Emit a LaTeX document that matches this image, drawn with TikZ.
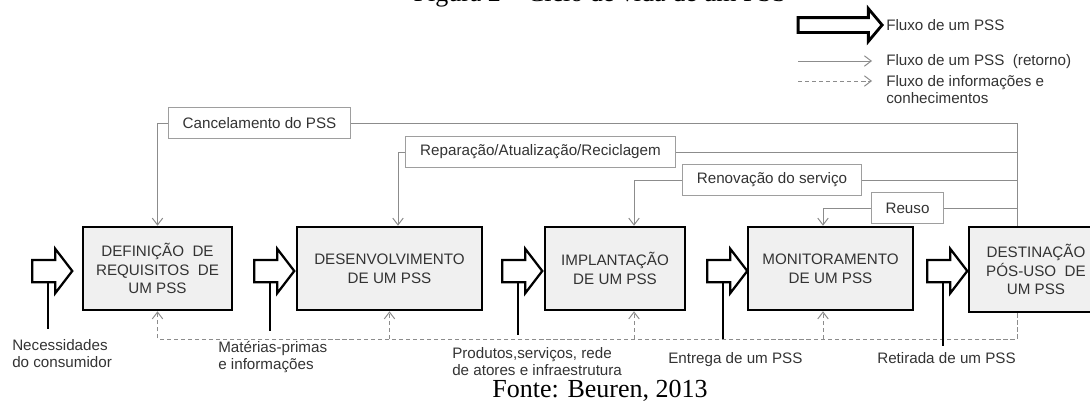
\documentclass[tikz,border=0pt]{standalone}
\usepackage{fontspec}
\setmainfont{Liberation Serif}
\setsansfont{Liberation Sans}
\usetikzlibrary{shapes.arrows,arrows.meta}

\definecolor{cinzalinha}{gray}{0.55}
\definecolor{cinzaborda}{gray}{0.62}
\definecolor{cinzatexto}{gray}{0.2}
\definecolor{cinzacaixa}{gray}{0.94}

\tikzset{
	etapa/.style={draw=black, line width=1.8pt, fill=cinzacaixa, align=center,
		inner sep=0pt, minimum height=2.075cm,
		font=\sffamily\fontsize{10.8}{13.2}\selectfont},
	rotulo/.style={draw=cinzaborda, line width=0.6pt, fill=white,
		inner xsep=0.36cm, inner ysep=0pt, minimum height=0.775cm},
	seta/.style={single arrow, draw=black, fill=white, line width=1.6pt,
		minimum height=1cm, inner xsep=0pt, inner ysep=0.25cm,
		single arrow head extend=0.275cm, single arrow tip angle=105},
	ret/.style={draw=cinzalinha, line width=0.7pt},
	info/.style={draw=cinzalinha, line width=0.7pt, dash pattern=on 3pt off 2pt},
	ponta/.style={-{Straight Barb[length=0.17cm,width=0.26cm]}},
	entrada/.style={draw=black, line width=0.9pt},
	legenda/.style={anchor=west, inner sep=0pt, align=left}
}

\begin{document}
\begin{tikzpicture}[x=0.025cm, y=-0.025cm, text=cinzatexto,
	font=\sffamily\fontsize{10.8}{12.2}\selectfont]
	\useasboundingbox (0,0) rectangle (1090,403);

	% titulo e fonte
	\node[anchor=base, font=\rmfamily\fontsize{18.5}{22}\selectfont, text=black]
		(titulo) at (600,1.5) {Figura 2 -- Ciclo de vida de um PSS};
	\node[anchor=base, font=\rmfamily\fontsize{18.5}{22}\selectfont, text=black]
		(fonte) at (600,397) {Fonte: Beuren, 2013};

	% legenda
	\node[seta, minimum height=2.1cm, inner ysep=0.15cm, line width=2pt,
		single arrow head extend=0.225cm, single arrow tip angle=100]
		(leg1) at (837,25) {};
	\node[legenda] (legt1) at (886,25) {Fluxo de um PSS};
	\coordinate (leg2a) at (798,61);
	\coordinate (leg2b) at (872,61);
	\draw[ret, ponta] (leg2a) -- (leg2b);
	\node[legenda] (legt2) at (886,62) {Fluxo de um PSS~ (retorno)};
	\coordinate (leg3a) at (798,81);
	\coordinate (leg3b) at (872,81);
	\draw[info, ponta] (leg3a) -- (leg3b);
	\node[legenda, anchor=north west] (legt3) at (886,75)
		{Fluxo de informações e\\conhecimentos};

	% etapas
	\node[etapa, minimum width=3.725cm] (defin) at (157.5,268.5)
		{DEFINIÇÃO~~DE\\REQUISITOS~~DE\\UM PSS};
	\node[etapa, minimum width=4.625cm] (desenv) at (389.5,268.5)
		{DESENVOLVIMENTO\\DE UM PSS};
	\node[etapa, minimum width=3.5cm] (implant) at (615,268.5)
		{IMPLANTAÇÃO\\DE UM PSS};
	\node[etapa, minimum width=4.125cm] (monit) at (830.5,268.5)
		{MONITORAMENTO\\DE UM PSS};
	\node[etapa, minimum width=3.35cm, minimum height=2.125cm] (destin) at (1036,269.5)
		{DESTINAÇÃO\\PÓS-USO~~DE\\UM PSS};

	% retornos
	\node[rotulo] (cancel) at (259.5,123) {Cancelamento do PSS};
	\node[rotulo] (repar) at (540.5,152) {Reparação/Atualização/Reciclagem};
	\node[rotulo] (renov) at (772,180) {Renovação do serviço};
	\node[rotulo] (reuso) at (907.5,208) {Reuso};
	\coordinate (tronco) at (1017,123);

	\draw[ret] (destin.north -| tronco) -- (tronco) -- (cancel.east);
	\draw[ret, ponta] (cancel.west) -| (defin.north);
	\draw[ret] (tronco |- repar) -- (repar.east);
	\draw[ret, ponta] (repar.west) -| (398,0 |- desenv.north);
	\draw[ret] (tronco |- renov) -- (renov.east);
	\draw[ret, ponta] (renov.west) -| (634,0 |- implant.north);
	\draw[ret] (tronco |- reuso) -- (reuso.east);
	\draw[ret, ponta] (reuso.west) -| (823,0 |- monit.north);

	% informacoes
	\coordinate (base) at (1017,339);
	\draw[info, ponta] (destin.south -| base) |- (defin.south |- base) -- (defin.south);
	\draw[info, ponta] (desenv.south |- base) -- (desenv.south);
	\draw[info, ponta] (634,0 |- base) -- (634,0 |- implant.south);
	\draw[info, ponta] (823,0 |- base) -- (823,0 |- monit.south);

	% entradas
	\node[seta] (a1) at (48,271) {};
	\node[seta] (a2) at (270,271) {};
	\node[seta] (a3) at (518,271) {};
	\node[seta] (a4) at (723,271) {};
	\node[seta] (a5) at (943,271) {};

	\draw[entrada] (a1.south) -- (a1 |- 0,329);
	\draw[entrada] (a2.south) -- (a2 |- 0,331);
	\draw[entrada] (a3.south) -- (a3 |- 0,335);
	\draw[entrada] (a4.south) -- (a4 |- 0,339);
	\draw[entrada] (a5.south) -- (a5 |- 0,346);

	\node[legenda, anchor=north west] (nec) at (12,339)
		{Necessidades\\do consumidor};
	\node[legenda, anchor=north west] (mat) at (218,341)
		{Matérias-primas\\e informações};
	\node[legenda, anchor=north west] (prod) at (452,347)
		{Produtos,serviços, rede\\de atores e infraestrutura};
	\node[legenda, anchor=north west] (entr) at (668,352) {Entrega de um PSS};
	\node[legenda, anchor=north west] (retir) at (877,352) {Retirada de um PSS};
\end{tikzpicture}
\end{document}
